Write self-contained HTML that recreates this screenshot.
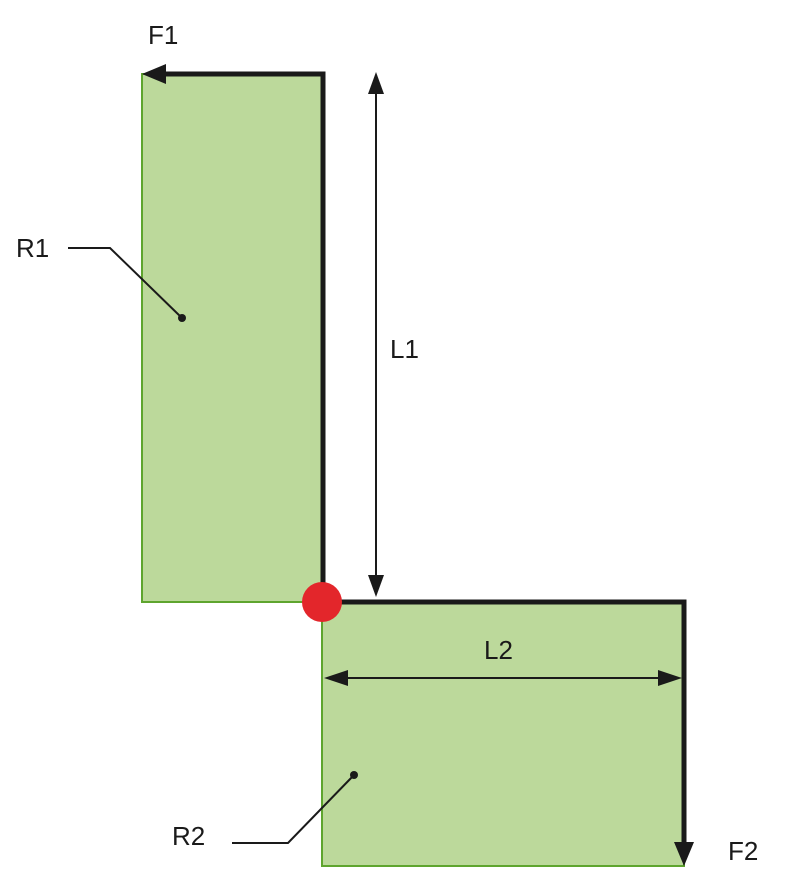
<!DOCTYPE html><html><head><style>body{margin:0;background:#fff}</style></head><body>
<svg width="800" height="885" viewBox="0 0 800 885" xmlns="http://www.w3.org/2000/svg" style="display:block;font-family:'Liberation Sans',sans-serif">
<rect x="142" y="74" width="181" height="528" fill="#bcd99b" stroke="#5ea52e" stroke-width="2"/>
<rect x="322" y="602" width="362" height="264" fill="#bcd99b" stroke="#5ea52e" stroke-width="2"/>
<polyline points="160,74 323,74 323,602" fill="none" stroke="#1a1a1a" stroke-width="5"/>
<polygon points="142,74 166,64 166,84" fill="#1a1a1a"/>
<polyline points="323,602 684,602 684,845" fill="none" stroke="#1a1a1a" stroke-width="5"/>
<polygon points="684,866 674,842 694,842" fill="#1a1a1a"/>
<line x1="376" y1="90" x2="376" y2="580" stroke="#1a1a1a" stroke-width="2"/>
<polygon points="376,72 368,94 384,94" fill="#1a1a1a"/>
<polygon points="376,597 368,575 384,575" fill="#1a1a1a"/>
<line x1="340" y1="678" x2="666" y2="678" stroke="#1a1a1a" stroke-width="2"/>
<polygon points="324,678 348,670 348,686" fill="#1a1a1a"/>
<polygon points="682,678 658,670 658,686" fill="#1a1a1a"/>
<circle cx="322" cy="602" r="20" fill="#e3262b"/>
<polyline points="68,248 110,248 182,318" fill="none" stroke="#1a1a1a" stroke-width="2"/>
<circle cx="182" cy="318" r="4" fill="#1a1a1a"/>
<polyline points="232,843 288,843 354,775" fill="none" stroke="#1a1a1a" stroke-width="2"/>
<circle cx="354" cy="775" r="4" fill="#1a1a1a"/>
<g font-size="26" fill="#1a1a1a">
<text x="148" y="44">F1</text>
<text x="16" y="257">R1</text>
<text x="390" y="358">L1</text>
<text x="484" y="659">L2</text>
<text x="172" y="845">R2</text>
<text x="728" y="860">F2</text>
</g>
</svg>
</body></html>
